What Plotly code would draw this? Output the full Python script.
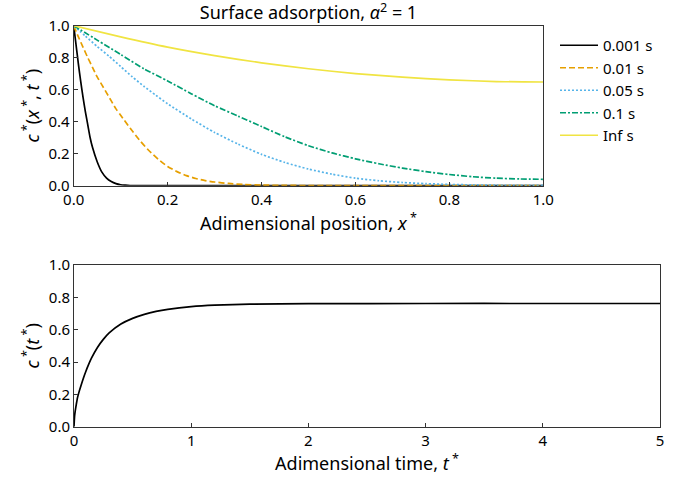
import plotly.graph_objects as go

# ---------------- data ----------------
series_names = ["0.001 s", "0.01 s", "0.05 s", "0.1 s", "Inf s"]

x_0001 = [0, 0.005, 0.01, 0.015, 0.02, 0.025, 0.03, 0.035, 0.04, 0.05, 0.06, 0.07,
          0.08, 0.09, 0.1, 0.11, 0.12, 0.14, 1.0]
c_0001 = [1, 0.88, 0.76, 0.65, 0.55, 0.46, 0.38, 0.30, 0.24, 0.15, 0.085, 0.048,
          0.026, 0.013, 0.006, 0.003, 0.001, 0, 0]

x_001 = [0, 0.01, 0.02, 0.03, 0.04, 0.05, 0.06, 0.07, 0.08, 0.09, 0.1, 0.12, 0.14,
         0.16, 0.18, 0.2, 0.22, 0.24, 0.26, 0.28, 0.3, 0.33, 0.36, 0.4, 0.45, 0.5, 1.0]
c_001 = [1, 0.93, 0.865, 0.80, 0.74, 0.68, 0.63, 0.58, 0.53, 0.48, 0.44, 0.36, 0.285,
         0.22, 0.165, 0.12, 0.088, 0.063, 0.045, 0.032, 0.023, 0.014, 0.008, 0.004,
         0.002, 0.001, 0]

x_005 = [0, 0.025, 0.05, 0.075, 0.1, 0.125, 0.15, 0.175, 0.2, 0.25, 0.3, 0.35, 0.4,
         0.45, 0.5, 0.55, 0.6, 0.65, 0.7, 0.75, 0.8, 0.85, 0.9, 1.0]
c_005 = [1, 0.935, 0.87, 0.81, 0.745, 0.68, 0.62, 0.565, 0.512, 0.418, 0.333, 0.26,
         0.196, 0.145, 0.104, 0.072, 0.047, 0.031, 0.02, 0.013, 0.008, 0.005, 0.003,
         0.002]

x_01 = [0, 0.05, 0.1, 0.15, 0.2, 0.25, 0.3, 0.35, 0.4, 0.45, 0.5, 0.55, 0.6, 0.65,
        0.7, 0.75, 0.8, 0.85, 0.9, 0.95, 1.0]
c_01 = [1, 0.91, 0.82, 0.73, 0.655, 0.575, 0.5, 0.435, 0.37, 0.305, 0.25, 0.205,
        0.168, 0.137, 0.11, 0.088, 0.07, 0.056, 0.047, 0.042, 0.04]

x_inf = [0, 0.1, 0.2, 0.3, 0.4, 0.5, 0.6, 0.7, 0.8, 0.9, 1.0]
c_inf = [1, 0.93, 0.866, 0.813, 0.768, 0.731, 0.701, 0.678, 0.662, 0.651, 0.648]

t_star = [0, 0.005, 0.01, 0.02, 0.03, 0.045, 0.06, 0.08, 0.1, 0.125, 0.15, 0.2, 0.25,
          0.3, 0.4, 0.5, 0.6, 0.7, 0.8, 1.0, 1.2, 1.5, 2, 3, 4, 5]
c_t = [0, 0.065, 0.095, 0.14, 0.18, 0.22, 0.255, 0.3, 0.34, 0.385, 0.425, 0.49, 0.54,
       0.58, 0.635, 0.67, 0.695, 0.713, 0.726, 0.743, 0.752, 0.758, 0.761, 0.762,
       0.762, 0.762]

x_ticks = [0.0, 0.2, 0.4, 0.6, 0.8, 1.0]
c_ticks = [0.0, 0.2, 0.4, 0.6, 0.8, 1.0]
t_ticks = [0, 1, 2, 3, 4, 5]

# ---------------- styling ----------------
FONT = "Noto Sans"
TICK_SIZE = 15
LABEL_SIZE = 18
colors = ["#000000", "#E69F00", "#56B4E9", "#009E73", "#F0E442"]
dashes = ["solid", "6px,3px", "2px,2px", "6px,2px,2px,2px", "solid"]
xs = [x_0001, x_001, x_005, x_01, x_inf]
cs = [c_0001, c_001, c_005, c_01, c_inf]

fig = go.Figure()
for name, x, c, col, d in zip(series_names, xs, cs, colors, dashes):
    fig.add_trace(go.Scatter(x=x, y=c, mode="lines", name=name,
                             line=dict(color=col, width=1.7, dash=d, shape="spline", smoothing=0.6),
                             xaxis="x", yaxis="y"))

fig.add_trace(go.Scatter(x=t_star, y=c_t, mode="lines", showlegend=False,
                         line=dict(color="#000000", width=1.7, shape="spline", smoothing=0.6),
                         xaxis="x2", yaxis="y2"))

W, H = 687, 483
def px_x(p):
    return p / W
def px_y(p):
    return 1 - p / H

axis_common = dict(showgrid=False, zeroline=False, showline=True, linecolor="#333",
                   linewidth=1, mirror=True, ticks="inside", ticklen=4, tickwidth=1,
                   tickcolor="#333",
                   tickfont=dict(family=FONT, size=TICK_SIZE, color="#000"))

fig.update_layout(
    width=W, height=H,
    margin=dict(l=0, r=0, t=0, b=0, autoexpand=False),
    paper_bgcolor="white", plot_bgcolor="white",
    font=dict(family=FONT, size=TICK_SIZE, color="#000"),
    title=dict(text="Surface adsorption, <i>α</i><sup>2</sup> = 1",
               x=px_x(308.5), xanchor="center", y=px_y(13), yanchor="middle",
               automargin=False, font=dict(family=FONT, size=LABEL_SIZE)),
    xaxis=dict(domain=[px_x(73.7), px_x(543.3)], range=[0, 1], tickvals=x_ticks,
               tickformat=".1f", anchor="y", automargin=True,
               title=dict(text="Adimensional position, <i>x</i><sup> *</sup>",
                          font=dict(family=FONT, size=LABEL_SIZE), standoff=9),
               **axis_common),
    yaxis=dict(domain=[px_y(185.7), px_y(25.7)], range=[0, 1], tickvals=c_ticks,
               tickformat=".1f", anchor="x", automargin=False,
               title=dict(text="<i>c</i><sup> *</sup>(<i>x</i><sup> *</sup>, <i>t</i><sup> *</sup>)",
                          font=dict(family=FONT, size=LABEL_SIZE), standoff=4),
               **axis_common),
    xaxis2=dict(domain=[px_x(74), px_x(660)], range=[0, 5], tickvals=t_ticks,
                anchor="y2", automargin=True,
                title=dict(text="Adimensional time, <i>t</i><sup> *</sup>",
                           font=dict(family=FONT, size=LABEL_SIZE), standoff=8),
                **axis_common),
    yaxis2=dict(domain=[px_y(426.7), px_y(265)], range=[0, 1], tickvals=c_ticks,
                tickformat=".1f", anchor="x2", automargin=False,
                title=dict(text="<i>c</i><sup> *</sup>(<i>t</i><sup> *</sup>)",
                           font=dict(family=FONT, size=LABEL_SIZE), standoff=4),
                **axis_common),
    legend=dict(x=px_x(555), y=px_y(29), xanchor="left", yanchor="top",
                bgcolor="rgba(0,0,0,0)", font=dict(family=FONT, size=15),
                itemwidth=38, tracegroupgap=0),
)

fig.write_html("out.html", config={"displayModeBar": False},
               post_script="document.body.style.margin='0';document.body.style.padding='0';")
